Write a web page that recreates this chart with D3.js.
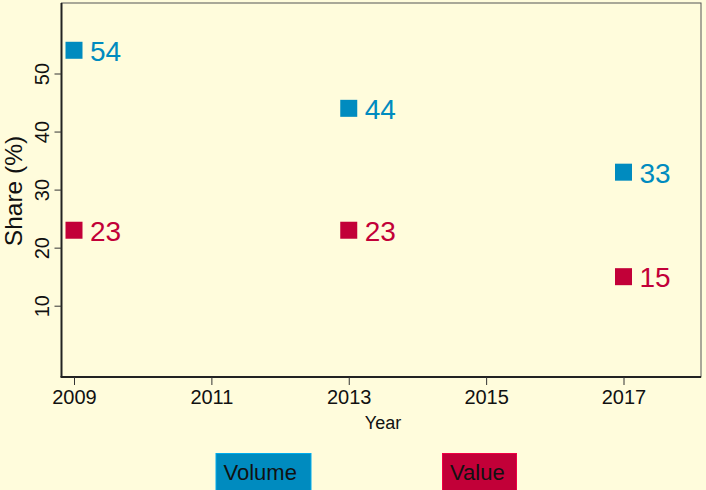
<!DOCTYPE html>
<html><head><meta charset="utf-8">
<script src="https://cdn.jsdelivr.net/npm/d3@7"></script>
<style>html,body{margin:0;padding:0;background:#fffcdc;}svg{display:block;}</style>
</head><body>
<script>
const years = [2009, 2013, 2017];
const volume = [54, 44, 33];
const value = [23, 23, 15];
const xTicks = [2009, 2011, 2013, 2015, 2017];
const yTicks = [10, 20, 30, 40, 50];
const seriesNames = ["Volume", "Value"];
const colors = ["#008bbf", "#c20038"];

(function () {
const FF = "Liberation Sans, Arial, sans-serif";
const W = 706, H = 490;
const svg = d3.select("body").append("svg").attr("width", W).attr("height", H)
  .style("font-family", FF);
svg.append("rect").attr("width", W).attr("height", H).attr("fill", "#fffcdc");

const pL = 61.5, pR = 701, pT = 3, pB = 377;
const x = d3.scaleLinear().domain([2009, 2017]).range([74, 623.5]);
const y = d3.scaleLinear().domain([10, 50]).range([305.7, 73.5]);

// frame
svg.append("rect").attr("x", pL).attr("y", pT).attr("width", pR - pL).attr("height", pB - pT)
  .attr("fill", "#fffcdc").attr("stroke", "#555").attr("stroke-width", 1);
svg.append("line").attr("x1", pL).attr("x2", pL).attr("y1", pT).attr("y2", pB).attr("stroke", "#222").attr("stroke-width", 2);
svg.append("line").attr("x1", pL - 1).attr("x2", pR).attr("y1", pB).attr("y2", pB).attr("stroke", "#222").attr("stroke-width", 2);

// x axis
const xa = svg.append("g").attr("transform", `translate(0,${pB})`)
  .call(d3.axisBottom(x).tickValues(xTicks).tickFormat(d3.format("d")).tickSize(8).tickPadding(5));
xa.select(".domain").remove();
xa.selectAll("line").attr("stroke", "#333");
xa.selectAll("text").attr("font-size", 20).attr("fill", "#111").attr("font-family", FF);

// y axis
const ya = svg.append("g").attr("transform", `translate(${pL},0)`)
  .call(d3.axisLeft(y).tickValues(yTicks).tickSize(7).tickPadding(0));
ya.select(".domain").remove();
ya.selectAll("line").attr("stroke", "#333");
ya.selectAll("text").attr("font-size", 20).attr("fill", "#111").attr("font-family", FF)
  .attr("x", null).attr("dy", null)
  .attr("transform", "translate(-13,0) rotate(-90)")
  .attr("text-anchor", "middle").attr("y", 0);

// titles
svg.append("text").attr("x", 383).attr("y", 429).attr("text-anchor", "middle")
  .attr("font-size", 18).attr("fill", "#111").text("Year");
svg.append("text").attr("transform", "translate(22,191) rotate(-90)").attr("text-anchor", "middle")
  .attr("font-size", 24.5).attr("fill", "#111").text("Share (%)");

// points
const data = [volume, value];
const sz = 17;
data.forEach((vals, i) => {
  const g = svg.append("g");
  g.selectAll("rect").data(vals).join("rect")
    .attr("x", (d, j) => x(years[j]) - sz / 2).attr("y", d => y(d) - sz / 2)
    .attr("width", sz).attr("height", sz).attr("fill", colors[i]);
  g.selectAll("text").data(vals).join("text")
    .attr("x", (d, j) => x(years[j]) + 16).attr("y", d => y(d) + 10.5)
    .attr("font-size", 28).attr("fill", colors[i]).text(d => d);
});

// legend
const legX = [216, 442.5], legW = [95, 74];
seriesNames.forEach((n, i) => {
  svg.append("rect").attr("x", legX[i]).attr("y", 453.5).attr("width", legW[i]).attr("height", 40)
    .attr("fill", colors[i]).attr("stroke", d3.color(colors[i]).brighter(0.6)).attr("stroke-width", 1);
  svg.append("text").attr("x", legX[i] + 7.5).attr("y", 480).attr("font-size", 22).attr("fill", "#111").text(n);
});
})();
</script>
</body></html>
